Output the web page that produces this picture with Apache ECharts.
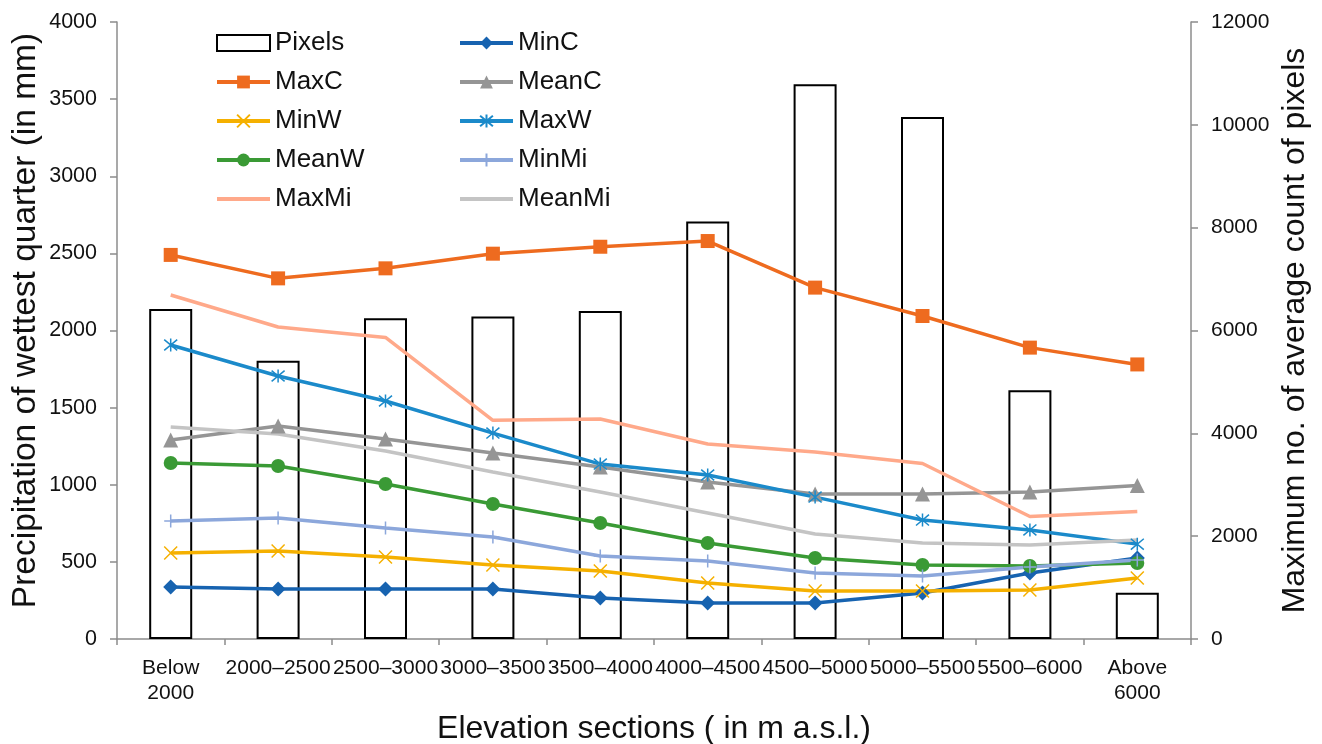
<!DOCTYPE html>
<html>
<head>
<meta charset="utf-8">
<script src="https://cdn.jsdelivr.net/npm/echarts@6/dist/echarts.min.js"></script>
<style>html,body{margin:0;padding:0;background:#fff}#c{width:1322px;height:744px}</style>
</head>
<body>
<div id="c"></div>
<script>
const categories = ['Below\n2000','2000\u20132500','2500\u20133000','3000\u20133500','3500\u20134000','4000\u20134500','4500\u20135000','5000\u20135500','5500\u20136000','Above\n6000'];
const pixels = [6420, 5410, 6240, 6270, 6380, 8120, 10790, 10150, 4840, 900];
const minC   = [337, 324, 324, 324, 266, 233, 233, 298, 428, 525];
const maxC   = [2490, 2338, 2403, 2498, 2543, 2580, 2278, 2094, 1889, 1780];
const meanC  = [1290, 1381, 1297, 1206, 1115, 1018, 940, 940, 953, 995];
const minW   = [558, 570, 532, 480, 441, 363, 311, 311, 318, 395];
const maxW   = [1906, 1705, 1543, 1335, 1134, 1063, 920, 771, 707, 615];
const meanW  = [1141, 1122, 1005, 875, 752, 622, 525, 480, 473, 493];
const minMi  = [765, 784, 720, 661, 538, 506, 428, 408, 467, 512];
const maxMi  = [2230, 2023, 1955, 1418, 1426, 1264, 1212, 1138, 794, 826];
const meanMi = [1375, 1329, 1219, 1083, 953, 817, 681, 622, 609, 642];

const FONT = "'Liberation Sans', Arial, sans-serif";
const AXIS = '#8c8c8c';
const TXT = '#111';

const SYM_X = 'path://M0,0L10,10M10,0L0,10';
const SYM_AST = 'path://M0,0L10,10M10,0L0,10M5,-1L5,11';
const SYM_PLUS = 'path://M5,0L5,10M0,5L10,5';
const SYM_NONE = 'path://M0,0L1,0L1,1L0,1Z';

function lineSeries(name, data, color, symbol, size, stroke) {
  return {
    name: name, type: 'line', yAxisIndex: 0, data: data,
    symbol: symbol || SYM_NONE, symbolSize: size || 1, showSymbol: !!symbol,
    lineStyle: { color: color, width: 3.5 },
    itemStyle: { color: (stroke || !symbol) ? 'rgba(0,0,0,0)' : color, borderColor: color, borderWidth: stroke ? 1.5 : 0 },
    z: 3, silent: true
  };
}

const plain = v => String(v);

const legendCommon = {
  orient: 'vertical', top: 30, padding: 0, itemWidth: 53, itemHeight: 16, itemGap: 13,
  textStyle: { fontSize: 26, color: TXT, fontFamily: FONT },
  lineStyle: { width: 4 },
  selectedMode: false
};

const chart = echarts.init(document.getElementById('c'), null, { renderer: 'canvas' });
chart.setOption({
  animation: false,
  backgroundColor: '#fff',
  textStyle: { fontFamily: FONT, color: TXT },
  grid: { left: 117, right: 131, top: 22, bottom: 105, containLabel: false, outerBoundsMode: 'none' },
  legend: [
    Object.assign({}, legendCommon, {
      data: [{ name: 'Pixels', icon: 'rect' }, 'MaxC', 'MinW', 'MeanW', 'MaxMi'],
      left: 215
    }),
    Object.assign({}, legendCommon, {
      data: ['MinC', 'MeanC', 'MaxW', 'MinMi', 'MeanMi'],
      left: 458
    })
  ],
  xAxis: {
    type: 'category', data: categories, boundaryGap: true,
    name: 'Elevation sections ( in m a.s.l.)', nameLocation: 'middle', nameGap: 74, nameMoveOverlap: false,
    nameTextStyle: { fontSize: 32, color: TXT, fontFamily: FONT },
    axisLine: { lineStyle: { color: AXIS, width: 1.5 } },
    axisTick: { show: true, length: 6, alignWithLabel: false, lineStyle: { color: AXIS, width: 1.5 } },
    axisLabel: { fontSize: 21, color: TXT, margin: 17, lineHeight: 25, interval: 0, fontFamily: FONT },
    splitLine: { show: false }
  },
  yAxis: [
    {
      type: 'value', min: 0, max: 4000, interval: 500, position: 'left',
      name: 'Precipitation of wettest quarter (in mm)', nameLocation: 'middle', nameGap: 74, nameRotate: 90, nameMoveOverlap: false,
      nameTextStyle: { fontSize: 33.5, color: TXT, fontFamily: FONT, padding: [0, 0, 0, 20] },
      axisLine: { show: true, lineStyle: { color: AXIS, width: 1.5 } },
      axisTick: { show: true, length: 7, lineStyle: { color: AXIS, width: 1.5 } },
      axisLabel: { fontSize: 21.5, color: TXT, margin: 20, fontFamily: FONT, formatter: plain },
      splitLine: { show: false }
    },
    {
      type: 'value', min: 0, max: 12000, interval: 2000, position: 'right',
      name: 'Maximum no. of average count of pixels', nameLocation: 'middle', nameGap: 88, nameRotate: 90, nameMoveOverlap: false,
      nameTextStyle: { fontSize: 32, color: TXT, fontFamily: FONT },
      axisLine: { show: true, lineStyle: { color: AXIS, width: 1.5 } },
      axisTick: { show: true, length: 7, lineStyle: { color: AXIS, width: 1.5 } },
      axisLabel: { fontSize: 21, color: TXT, margin: 20, fontFamily: FONT, formatter: plain },
      splitLine: { show: false }
    }
  ],
  series: [
    {
      name: 'Pixels', type: 'bar', yAxisIndex: 1, data: pixels, barWidth: 43,
      itemStyle: { color: '#ffffff', borderColor: '#000000', borderWidth: 2 },
      z: 1, silent: true
    },
    lineSeries('MinC', minC, '#1763b0', 'diamond', 15),
    lineSeries('MaxC', maxC, '#ee6b1f', 'rect', 14),
    lineSeries('MeanC', meanC, '#959595', 'triangle', 15),
    lineSeries('MinW', minW, '#f5b000', SYM_X, 13, true),
    lineSeries('MaxW', maxW, '#1b8aca', SYM_AST, 13, true),
    lineSeries('MeanW', meanW, '#3a9a35', 'circle', 14),
    lineSeries('MinMi', minMi, '#8ca7db', SYM_PLUS, 13, true),
    lineSeries('MaxMi', maxMi, '#ffa98a', null),
    lineSeries('MeanMi', meanMi, '#c4c4c4', null)
  ]
});
</script>
</body>
</html>
